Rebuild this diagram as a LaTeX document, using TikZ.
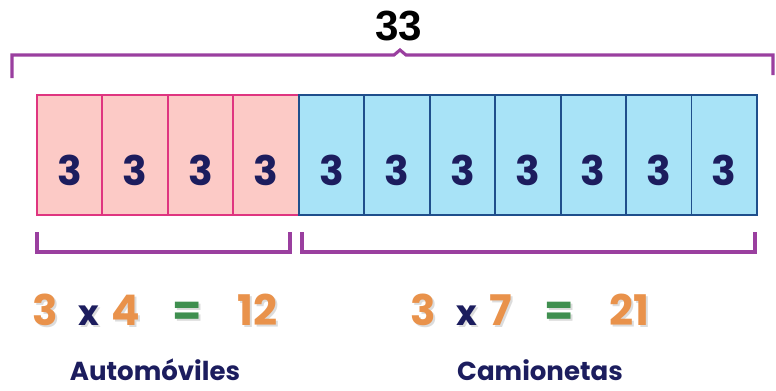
\documentclass[tikz,border=0pt]{standalone}
\usepackage{fontspec}
\setmainfont{Poppins}
\newfontfamily\totalfont{Liberation Sans}
\definecolor{pinkfill}{HTML}{FCCAC6}
\definecolor{pinkline}{HTML}{DF3580}
\definecolor{bluefill}{HTML}{A8E3F7}
\definecolor{blueline}{HTML}{1F4F8C}
\definecolor{navy}{HTML}{1C1D5E}
\definecolor{bracketpurple}{HTML}{9A3F9F}
\definecolor{digitorange}{HTML}{E9924B}
\definecolor{eqgreen}{HTML}{3F8F4F}
\definecolor{glowgray}{HTML}{DCDCDC}
\colorlet{digitcol}{digitorange}\colorlet{timescol}{navy}\colorlet{equalcol}{eqgreen}
\newcommand{\prodline}[3]{{\color{digitcol}#1}\hspace{0.5cm}{\color{timescol}\fontsize{25}{25}\selectfont x}\hspace{0.32cm}{\color{digitcol}#2}\hspace{0.8cm}{\color{equalcol}=}\hspace{0.9cm}{\color{digitcol}#3}}
\newcommand{\glowcols}{\colorlet{digitcol}{glowgray}\colorlet{timescol}{glowgray}\colorlet{equalcol}{glowgray}}

\begin{document}
\begin{tikzpicture}[x=0.025cm,y=-0.025cm,
  unitcell/.style={line width=1.4pt,minimum width=1.636cm,minimum height=3cm,inner sep=0pt,text=navy,font=\fontsize{29}{29}\selectfont\bfseries},
  carcell/.style={unitcell,fill=pinkfill,draw=pinkline},
  vancell/.style={unitcell,fill=bluefill,draw=blueline},
  brace/.style={bracketpurple,line width=2.2pt},
  eqtext/.style={font=\fontsize{30}{30}\selectfont\bfseries,inner sep=0pt,anchor=base},
  nametext/.style={text=navy,font=\fontsize{18.5}{18.5}\selectfont\bfseries,inner sep=0pt,anchor=base}]
\useasboundingbox (0,0) rectangle (776,390);
% the eleven cells
\foreach \i in {1,...,4} \node[carcell] (c\i) at ({37+65.45*(\i-0.5)},155) {\raisebox{-0.75cm}[0pt][0pt]{3}};
\foreach \i in {5,...,11} \node[vancell] (c\i) at ({37+65.45*(\i-0.5)},155) {\raisebox{-0.75cm}[0pt][0pt]{3}};
% total on top
\node[font=\totalfont\fontsize{30}{30}\selectfont\bfseries,inner sep=0pt,anchor=base] (total) at (399,40) {33};
\draw[brace] (12,78)--(12,55)--(394,55)--(400,50)--(406,55)--(773,55)--(773,75);
% groups below
\draw[brace] (37,232)--(37,252)--(290,252)--(290,232);
\draw[brace] (302,232)--(302,252)--(755,252)--(755,232);
\node[eqtext] (eqcarglow) at (157,327) {\glowcols\prodline{3}{4}{12}};
\node[eqtext] (eqvanglow) at (532,327) {\glowcols\prodline{3}{7}{21}};
\node[eqtext] (eqcar) at (155,325) {\prodline{3}{4}{12}};
\node[eqtext] (eqvan) at (530,325) {\prodline{3}{7}{21}};
\node[nametext] (car) at (155,380) {Automóviles};
\node[nametext] (van) at (540,380) {Camionetas};
\end{tikzpicture}
\end{document}
